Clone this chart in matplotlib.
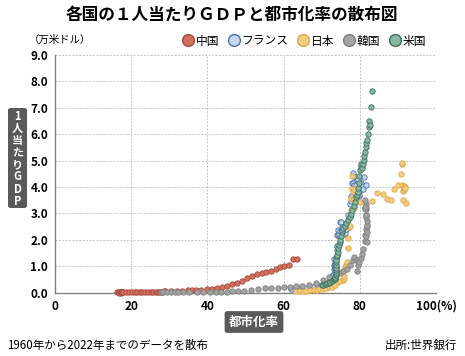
import matplotlib
matplotlib.use('Agg')
import matplotlib.pyplot as plt
from matplotlib.lines import Line2D
from matplotlib.patches import FancyBboxPatch

plt.rcParams['font.family'] = ['Noto Sans CJK JP', 'DejaVu Sans']

# 1960..2022, urbanisation (%) and GDP per capita (10k USD)
china_urban = [16.2, 16.7, 17.3, 16.8, 17.3, 17.6, 17.6, 17.5, 17.5, 17.4,
               17.4, 17.3, 17.2, 17.2, 17.2, 17.3, 17.4, 17.6, 17.9, 18.6,
               19.4, 20.2, 21.1, 21.6, 22.2, 22.9, 23.7, 24.5, 25.3, 25.8,
               26.4, 27.0, 27.5, 28.1, 28.5, 29.0, 30.5, 31.9, 33.4, 34.9,
               35.9, 37.1, 38.4, 39.8, 41.1, 42.5, 43.9, 45.2, 46.5, 47.9,
               49.2, 50.5, 51.8, 53.0, 54.3, 55.5, 56.7, 57.9, 59.0, 60.0,
               61.4, 62.5, 63.6]
china_gdp = [0.009, 0.0076, 0.0071, 0.0071, 0.0084, 0.0098, 0.0104, 0.0097, 0.0091, 0.0100,
             0.0113, 0.0119, 0.0132, 0.0157, 0.0160, 0.0178, 0.0165, 0.0185, 0.0157, 0.0184,
             0.0195, 0.0197, 0.0203, 0.0225, 0.0251, 0.0294, 0.0282, 0.0252, 0.0284, 0.0311,
             0.0318, 0.0333, 0.0367, 0.0377, 0.0473, 0.0610, 0.0709, 0.0782, 0.0829, 0.0873,
             0.0959, 0.1053, 0.1149, 0.1289, 0.1509, 0.1753, 0.2099, 0.2694, 0.3468, 0.3832,
             0.4550, 0.5614, 0.6301, 0.7020, 0.7636, 0.8016, 0.8094, 0.8817, 0.9905, 1.0144,
             1.0409, 1.2618, 1.2720]

france_urban = [61.9, 62.9, 63.9, 64.9, 66.0, 67.1, 68.0, 68.9, 69.7, 70.4,
                71.1, 71.5, 71.9, 72.3, 72.6, 72.9, 73.0, 73.1, 73.2, 73.2,
                73.3, 73.4, 73.5, 73.5, 73.6, 73.7, 73.8, 73.9, 74.0, 74.0,
                74.1, 74.2, 74.4, 74.5, 74.7, 74.9, 75.1, 75.2, 75.4, 75.7,
                75.9, 76.2, 76.5, 76.9, 77.3, 77.6, 77.7, 77.9, 78.1, 78.2,
                78.4, 78.7, 78.9, 79.2, 79.4, 79.7, 79.9, 80.2, 80.4, 80.7,
                80.9, 81.2, 81.5]
france_gdp = [0.134, 0.143, 0.159, 0.175, 0.194, 0.205, 0.220, 0.235, 0.255, 0.269,
              0.287, 0.317, 0.382, 0.500, 0.515, 0.657, 0.664, 0.726, 0.886, 1.067,
              1.271, 1.111, 1.050, 0.986, 0.924, 0.957, 1.319, 1.620, 1.757, 1.763,
              2.179, 2.168, 2.381, 2.239, 2.350, 2.689, 2.687, 2.423, 2.497, 2.468,
              2.236, 2.243, 2.418, 2.957, 3.374, 3.477, 3.647, 4.160, 4.541, 4.158,
              4.064, 4.379, 4.088, 4.260, 4.307, 3.665, 3.706, 3.878, 4.156, 4.049,
              3.917, 4.366, 4.089]

japan_urban = [63.3, 64.2, 65.1, 66.0, 67.0, 67.9, 68.7, 69.5, 70.3, 71.1,
               71.9, 72.7, 73.4, 74.2, 74.9, 75.7, 75.8, 75.9, 76.0, 76.1,
               76.2, 76.3, 76.4, 76.5, 76.6, 76.7, 76.8, 76.9, 77.1, 77.2,
               77.3, 77.5, 77.6, 77.7, 77.9, 78.0, 78.1, 78.3, 78.4, 78.5,
               78.6, 80.1, 81.6, 83.1, 84.6, 86.0, 87.1, 88.1, 89.1, 90.0,
               90.8, 91.0, 91.1, 91.2, 91.3, 91.4, 91.5, 91.6, 91.6, 91.7,
               91.8, 91.9, 92.0]
japan_gdp = [0.048, 0.056, 0.063, 0.072, 0.084, 0.092, 0.106, 0.123, 0.145, 0.167,
             0.204, 0.227, 0.297, 0.400, 0.435, 0.466, 0.520, 0.634, 0.882, 0.911,
             0.946, 1.036, 0.958, 1.043, 1.098, 1.159, 1.711, 2.075, 2.506, 2.481,
             2.537, 2.893, 3.147, 3.577, 3.927, 4.420, 3.844, 3.502, 3.190, 3.603,
             3.917, 3.441, 3.229, 3.481, 3.769, 3.722, 3.543, 3.528, 3.934, 4.086,
             4.497, 4.876, 4.915, 4.090, 3.848, 3.496, 3.938, 3.883, 3.975, 4.042,
             4.004, 3.983, 3.402]

korea_urban = [27.7, 28.4, 29.5, 30.4, 31.4, 32.4, 33.6, 35.2, 37.2, 38.9,
               40.7, 42.2, 43.6, 45.1, 46.5, 48.0, 49.7, 51.5, 53.2, 55.0,
               56.7, 58.4, 60.0, 61.7, 63.3, 64.9, 66.7, 68.5, 70.3, 72.0,
               73.8, 74.8, 75.7, 76.6, 77.4, 78.2, 78.6, 79.0, 79.2, 79.4,
               79.6, 79.9, 80.2, 80.6, 80.9, 81.3, 81.4, 81.6, 81.7, 81.8,
               81.9, 81.9, 81.9, 81.8, 81.7, 81.6, 81.6, 81.5, 81.5, 81.4,
               81.4, 81.4, 81.4]
korea_gdp = [0.016, 0.009, 0.011, 0.015, 0.012, 0.011, 0.013, 0.016, 0.020, 0.024,
             0.028, 0.030, 0.032, 0.041, 0.056, 0.062, 0.083, 0.106, 0.141, 0.178,
             0.172, 0.188, 0.199, 0.220, 0.241, 0.248, 0.284, 0.356, 0.475, 0.582,
             0.661, 0.764, 0.813, 0.889, 1.039, 1.257, 1.340, 1.240, 0.828, 1.067,
             1.226, 1.156, 1.317, 1.467, 1.650, 1.940, 2.174, 2.409, 2.135, 1.914,
             2.308, 2.510, 2.546, 2.718, 2.925, 2.874, 2.927, 3.160, 3.345, 3.190,
             3.172, 3.514, 3.242]

us_urban = [70.0, 70.4, 70.8, 71.2, 71.5, 71.9, 72.3, 72.6, 72.9, 73.3,
            73.6, 73.6, 73.6, 73.7, 73.7, 73.7, 73.7, 73.7, 73.7, 73.7,
            73.7, 73.9, 74.0, 74.2, 74.4, 74.5, 74.7, 74.9, 75.0, 75.2,
            75.3, 75.7, 76.1, 76.5, 76.9, 77.3, 77.7, 78.0, 78.4, 78.8,
            79.1, 79.2, 79.4, 79.6, 79.8, 79.9, 80.1, 80.3, 80.4, 80.6,
            80.8, 81.0, 81.1, 81.3, 81.5, 81.7, 81.9, 82.1, 82.3, 82.5,
            82.7, 82.9, 83.1]
us_gdp = [0.301, 0.307, 0.324, 0.338, 0.357, 0.383, 0.415, 0.434, 0.470, 0.503,
          0.523, 0.561, 0.609, 0.673, 0.723, 0.780, 0.859, 0.945, 1.057, 1.167,
          1.255, 1.395, 1.441, 1.551, 1.709, 1.824, 1.907, 2.004, 2.142, 2.286,
          2.389, 2.434, 2.542, 2.639, 2.770, 2.869, 2.997, 3.146, 3.285, 3.452,
          3.633, 3.713, 3.802, 3.950, 4.171, 4.412, 4.630, 4.805, 4.857, 4.720,
          4.865, 5.007, 5.178, 5.329, 5.512, 5.676, 5.787, 5.992, 6.281, 6.510,
          6.353, 7.022, 7.633]

names = ['中国', 'フランス', '日本', '韓国', '米国']
fills = ['#d0705f', '#c6d8f0', '#f2cc80', '#a3a3a3', '#88b8a2']
edges = ['#a84a3c', '#4a6fb0', '#e0a848', '#7f7f7f', '#3d6e5c']
series = [(china_urban, china_gdp), (france_urban, france_gdp),
          (japan_urban, japan_gdp), (korea_urban, korea_gdp),
          (us_urban, us_gdp)]
ylabel_chars = ['1', '人', '当', 'た', 'り', 'G', 'D', 'P']

W, H = 465, 356
fig = plt.figure(figsize=(W / 100, H / 100), dpi=100)
ax = fig.add_axes([55 / W, 1 - 292.7 / H, 381 / W, 237.7 / H])

for (x, y), fc, ec in zip(series, fills, edges):
    ax.scatter(x, y, s=15, c=fc, edgecolors=ec, linewidths=0.6,
               zorder=3, clip_on=False)

ax.set_xlim(0, 100)
ax.set_ylim(0, 9)
ax.set_xticks(range(0, 101, 20))
ax.set_xticklabels(['0', '20', '40', '60', '80', '100(%)'])
ax.set_yticks(range(0, 10))
ax.set_yticklabels([f'{v:.1f}' for v in range(0, 10)])
ax.tick_params(length=0, labelsize=8.5, pad=5)
for lab in ax.get_xticklabels() + ax.get_yticklabels():
    lab.set_fontweight('bold')
ax.grid(True, color='#c4c4c4', linestyle=(0, (2, 1.5)), linewidth=0.7)
ax.set_axisbelow(True)
for s in ['top', 'right']:
    ax.spines[s].set_visible(False)
for s in ['left', 'bottom']:
    ax.spines[s].set_color('#808080')
    ax.spines[s].set_linewidth(1.0)

handles = [Line2D([], [], marker='o', linestyle='', markersize=8.5,
                  markerfacecolor=fc, markeredgecolor=ec, markeredgewidth=1.0)
           for fc, ec in zip(fills, edges)]
fig.legend(handles, names, loc='center right', bbox_to_anchor=(432 / W, 1 - 41 / H),
           ncol=5, frameon=False, fontsize=8.5, handletextpad=0.15,
           columnspacing=0.75, borderpad=0, handlelength=1.0)

fig.text(232 / W, 1 - 15 / H, '各国の１人当たりＧＤＰと都市化率の散布図',
         ha='center', va='center', fontsize=12, fontweight='bold')
fig.text(29 / W, 1 - 40 / H, '（万米ドル）', ha='left', va='center', fontsize=7.5)

# vertical y-axis label: dark rounded box with stacked upright characters
fig.patches.append(FancyBboxPatch((8 / W, 1 - 208 / H), 19 / W, 100 / H,
                                  boxstyle='round,pad=0,rounding_size=0.006',
                                  transform=fig.transFigure, fc='#5a5a5a', ec='none'))
for i, ch in enumerate(ylabel_chars):
    fig.text(17.5 / W, 1 - (116 + i * 12.2) / H, ch, ha='center', va='center',
             fontsize=8, fontweight='bold', color='white')

fig.text(254 / W, 1 - 322 / H, '都市化率', ha='center', va='center',
         fontsize=9, fontweight='bold', color='white',
         bbox=dict(boxstyle='round,pad=0.35,rounding_size=0.2', fc='#5a5a5a', ec='none'))

fig.text(7 / W, 1 - 345 / H, '1960年から2022年までのデータを散布',
         ha='left', va='center', fontsize=8.3)
fig.text(457 / W, 1 - 345 / H, '出所:世界銀行',
         ha='right', va='center', fontsize=8.3)

fig.savefig('out.png', dpi=100)
